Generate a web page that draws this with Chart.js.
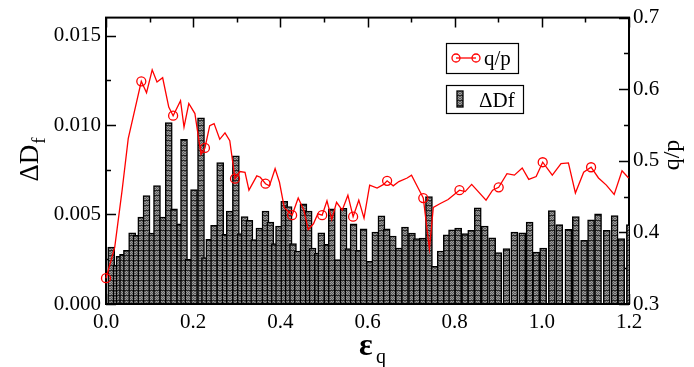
<!DOCTYPE html>
<html>
<head>
<meta charset="utf-8">
<script src="https://cdn.jsdelivr.net/npm/chart.js@4.4.1/dist/chart.umd.min.js"></script>
<style>
html, body { margin: 0; padding: 0; background: #fff; }
</style>
</head>
<body>
<canvas id="grafico" width="694" height="367"></canvas>
<script>
// barras: Delta D_f em funcao de eps_q
var dfX = [0.012,0.024,0.031,0.039,0.048,0.060,0.070,0.081,0.093,0.106,0.117,0.131,0.144,0.156,0.170,0.179,0.189,0.202,0.218,0.227,
  0.237,0.248,0.262,0.274,0.284,0.298,0.309,0.318,0.329,0.340,0.352,0.366,0.377,0.387,0.397,0.409,0.419,0.429,0.440,0.453,
  0.465,0.474,0.486,0.494,0.508,0.518,0.532,0.545,0.556,0.568,0.580,0.591,0.605,0.618,0.632,0.644,0.658,0.672,0.686,0.702,
  0.713,0.727,0.741,0.754,0.768,0.782,0.794,0.808,0.824,0.838,0.853,0.869,0.886,0.900,0.919,0.937,0.955,0.972,0.987,1.003,
  1.023,1.040,1.061,1.078,1.097,1.113,1.129,1.149,1.167,1.182,1.202];
var dfY = [0.00318,0.00217,0.00267,0.00278,0.0030,0.00398,0.00383,0.00485,0.00606,0.00396,0.00661,0.00485,0.01013,0.00531,0.00448,0.0092,0.0025,0.00639,0.0104,0.0026,
  0.00361,0.00439,0.0079,0.00389,0.00519,0.00828,0.00393,0.00489,0.00467,0.0036,0.00424,0.00519,0.00457,0.00337,0.00435,0.00574,0.00544,0.00337,0.00296,0.0056,
  0.00519,0.00313,0.00285,0.00398,0.00333,0.00531,0.00248,0.00535,0.00309,0.00448,0.0030,0.0042,0.00239,0.00402,0.00493,0.0042,0.0038,0.00313,0.0043,0.00396,
  0.00365,0.00368,0.0060,0.00211,0.00296,0.00387,0.00415,0.00424,0.00393,0.00411,0.00537,0.00436,0.0037,0.00287,0.00309,0.00402,0.00398,0.00457,0.0029,0.00313,
  0.00522,0.00443,0.00417,0.00489,0.00356,0.0047,0.00504,0.00411,0.00494,0.00365,0.00443];

// linha: q/p
var qpX = [0.000,0.020,0.037,0.051,0.081,0.093,0.106,0.117,0.130,0.144,0.154,0.171,0.179,0.190,0.204,0.218,0.227,0.238,0.248,0.261,
  0.273,0.284,0.296,0.307,0.319,0.328,0.346,0.354,0.366,0.375,0.388,0.398,0.409,0.427,0.441,0.454,0.464,0.476,0.486,0.496,
  0.507,0.518,0.529,0.542,0.555,0.567,0.580,0.592,0.605,0.622,0.637,0.645,0.659,0.672,0.691,0.701,0.717,0.728,0.742,0.751,
  0.766,0.785,0.811,0.824,0.839,0.872,0.887,0.901,0.920,0.937,0.955,0.970,0.987,1.002,1.024,1.044,1.061,1.077,1.096,1.113,
  1.130,1.148,1.166,1.184,1.199];
var qpY = [0.336,0.379,0.459,0.531,0.611,0.595,0.627,0.610,0.616,0.575,0.563,0.584,0.547,0.580,0.566,0.509,0.518,0.549,0.552,0.530,
  0.539,0.528,0.475,0.485,0.484,0.459,0.479,0.477,0.468,0.465,0.489,0.470,0.435,0.424,0.448,0.431,0.404,0.412,0.426,0.424,
  0.444,0.418,0.442,0.431,0.452,0.422,0.445,0.420,0.466,0.462,0.467,0.472,0.465,0.471,0.476,0.480,0.461,0.448,0.377,0.435,
  0.440,0.446,0.459,0.457,0.467,0.445,0.459,0.463,0.482,0.480,0.490,0.474,0.478,0.498,0.480,0.496,0.497,0.455,0.484,0.491,
  0.476,0.466,0.453,0.486,0.476];
// pontos com simbolo (circulo)
var qpMarkX = [0.000,0.081,0.154,0.227,0.296,0.366,0.427,0.496,0.567,0.645,0.728,0.811,0.901,1.002,1.113];

// ticks dos eixos
var xTicks = [0,0.1,0.2,0.3,0.4,0.5,0.6,0.7,0.8,0.9,1.0,1.1,1.2];
var yTicks = [0,0.0025,0.005,0.0075,0.01,0.0125,0.015];
var y2Ticks = [0.3,0.35,0.4,0.45,0.5,0.55,0.6,0.65,0.7];

var fonte = '"Liberation Serif", "DejaVu Serif", serif';

// padrao cinza das barras
function padrao() {
  var c = document.createElement('canvas');
  c.width = 5; c.height = 5;
  var g = c.getContext('2d');
  g.fillStyle = '#5c5c5c';
  g.fillRect(0, 0, 5, 5);
  for (var i = 0; i < 5; i++) {
    for (var j = 0; j < 5; j++) {
      if ((i + j) % 2 == 0) { g.fillStyle = '#9c9c9c'; g.fillRect(i, j, 1, 1); }
    }
  }
  g.fillStyle = '#262626';
  g.fillRect(0, 0, 5, 1);
  return g.createPattern(c, 'repeat');
}
var cinza = padrao();

function ehMaior(v, passo) {
  return Math.abs(v / passo - Math.round(v / passo)) < 1e-6;
}

function fixaTicks(lista) {
  return function (s) { s.ticks = lista.map(function (v) { return { value: v }; }); };
}

var enfeites = {
  id: 'enfeites',
  beforeDatasetsDraw(chart) {
    var ctx = chart.ctx, a = chart.chartArea;
    var sx = chart.scales.x, sy = chart.scales.y, sy2 = chart.scales.y2;
    ctx.save();
    ctx.strokeStyle = '#000';
    ctx.lineWidth = 2;
    ctx.strokeRect(a.left, a.top, a.right - a.left, a.bottom - a.top);
    ctx.lineWidth = 1.5;
    ctx.beginPath();
    sx.ticks.forEach(function (t) {
      var p = Math.round(sx.getPixelForValue(t.value)) + 0.5;
      var len = ehMaior(t.value, 0.2) ? 10 : 5;
      ctx.moveTo(p, a.bottom); ctx.lineTo(p, a.bottom - len);
      ctx.moveTo(p, a.top); ctx.lineTo(p, a.top + len);
    });
    sy.ticks.forEach(function (t) {
      var p = Math.round(sy.getPixelForValue(t.value)) + 0.5;
      var len = ehMaior(t.value, 0.005) ? 10 : 5;
      ctx.moveTo(a.left, p); ctx.lineTo(a.left + len, p);
    });
    sy2.ticks.forEach(function (t) {
      var p = Math.round(sy2.getPixelForValue(t.value)) + 0.5;
      var len = ehMaior(t.value, 0.1) ? 10 : 5;
      ctx.moveTo(a.right, p); ctx.lineTo(a.right - len, p);
    });
    ctx.stroke();
    ctx.restore();
  },
  afterDraw(chart) {
    var ctx = chart.ctx;
    ctx.save();
    ctx.fillStyle = '#000';
    ctx.textBaseline = 'alphabetic';
    ctx.textAlign = 'left';

    // titulo eixo esquerdo: Delta D_f
    ctx.save();
    ctx.translate(38, 160);
    ctx.rotate(-Math.PI / 2);
    ctx.font = '27px ' + fonte;
    var w1 = ctx.measureText('\u0394D').width;
    ctx.font = '19px ' + fonte;
    var w2 = ctx.measureText('f').width;
    var x0 = -(w1 + w2) / 2;
    ctx.font = '27px ' + fonte;
    ctx.fillText('\u0394D', x0, 0);
    ctx.font = '19px ' + fonte;
    ctx.fillText('f', x0 + w1 + 1, 7);
    ctx.restore();

    // titulo eixo direito: q/p
    ctx.save();
    ctx.translate(679, 155);
    ctx.rotate(-Math.PI / 2);
    ctx.font = '24px ' + fonte;
    ctx.textAlign = 'center';
    ctx.fillText('q/p', 0, 0);
    ctx.restore();

    // titulo eixo x: eps_q
    ctx.font = 'bold 32px ' + fonte;
    ctx.fillText('\u03b5', 359, 355);
    ctx.font = '20px ' + fonte;
    ctx.fillText('q', 376, 363);

    // legenda
    ctx.strokeStyle = '#000';
    ctx.lineWidth = 1.2;
    ctx.strokeRect(446.5, 43.5, 72, 30);
    ctx.strokeRect(446.5, 85.5, 77, 28);
    ctx.strokeStyle = '#ff0000';
    ctx.lineWidth = 1.3;
    ctx.beginPath();
    ctx.moveTo(456, 58); ctx.lineTo(476, 58);
    ctx.stroke();
    [456, 476].forEach(function (cx) {
      ctx.beginPath();
      ctx.arc(cx, 58, 4, 0, Math.PI * 2);
      ctx.stroke();
    });
    ctx.fillStyle = cinza;
    ctx.fillRect(457, 91, 6, 16);
    ctx.strokeStyle = '#000';
    ctx.strokeRect(457, 91, 6, 16);
    ctx.fillStyle = '#000';
    ctx.font = '21px ' + fonte;
    ctx.fillText('q/p', 484, 65);
    ctx.fillText('\u0394Df', 479, 107);
    ctx.restore();
  }
};

var pontosBarras = dfX.map(function (x, i) { return { x: x, y: dfY[i] }; });
var pontosLinha = qpX.map(function (x, i) { return { x: x, y: qpY[i] }; });

var grafico = new Chart(document.getElementById('grafico'), {
  type: 'bar',
  data: {
    datasets: [{
      type: 'line',
      label: 'q/p',
      data: pontosLinha,
      yAxisID: 'y2',
      borderColor: '#ff0000',
      borderWidth: 1.3,
      tension: 0,
      pointStyle: 'circle',
      pointRadius: function (c) { return qpMarkX.indexOf(qpX[c.dataIndex]) >= 0 ? 4.5 : 0; },
      pointBorderColor: '#ff0000',
      pointBackgroundColor: 'rgba(0,0,0,0)',
      pointBorderWidth: 1.3,
      clip: false,
      order: 0
    }, {
      type: 'bar',
      label: '\u0394Df',
      data: pontosBarras,
      yAxisID: 'y',
      backgroundColor: cinza,
      borderColor: '#000',
      borderWidth: 1.5,
      borderSkipped: false,
      barThickness: 7,
      order: 1
    }]
  },
  options: {
    responsive: false,
    animation: false,
    events: [],
    layout: { padding: { top: 17, left: 0, right: 0, bottom: 0 } },
    plugins: { legend: { display: false }, tooltip: { enabled: false } },
    scales: {
      x: {
        type: 'linear',
        min: 0, max: 1.2,
        offset: false,
        grid: { display: false, drawTicks: false },
        border: { display: false },
        afterBuildTicks: fixaTicks(xTicks),
        ticks: {
          autoSkip: false,
          maxRotation: 0,
          padding: 6,
          color: '#000',
          font: { family: fonte, size: 21 },
          callback: function (v) { return ehMaior(v, 0.2) ? v.toFixed(1) : ''; }
        },
        afterFit: function (s) { s.height = 63; }
      },
      y: {
        position: 'left',
        min: 0, max: 0.016,
        grid: { display: false, drawTicks: false },
        border: { display: false },
        afterBuildTicks: fixaTicks(yTicks),
        ticks: {
          autoSkip: false,
          padding: 5,
          color: '#000',
          font: { family: fonte, size: 21 },
          callback: function (v) { return ehMaior(v, 0.005) ? v.toFixed(3) : ''; }
        },
        afterFit: function (s) { s.width = 106; }
      },
      y2: {
        position: 'right',
        min: 0.3, max: 0.7,
        grid: { display: false, drawTicks: false },
        border: { display: false },
        afterBuildTicks: fixaTicks(y2Ticks),
        ticks: {
          autoSkip: false,
          padding: 4,
          color: '#000',
          font: { family: fonte, size: 21 },
          callback: function (v) { return ehMaior(v, 0.1) ? v.toFixed(1) : ''; }
        },
        afterFit: function (s) { s.width = 65; }
      }
    }
  },
  plugins: [enfeites]
});
</script>
</body>
</html>
